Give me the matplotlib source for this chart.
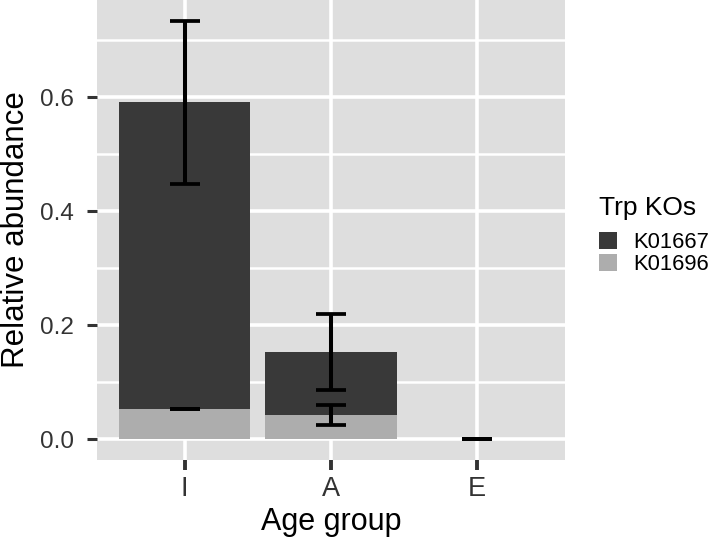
import matplotlib
matplotlib.use("Agg")
import matplotlib.pyplot as plt
from matplotlib.patches import Rectangle
import numpy as np

plt.rcParams['font.family'] = ['Liberation Sans', 'DejaVu Sans']

# ---- data ----
groups = ["I", "A", "E"]
series_names = ["K01667", "K01696"]
k01696 = [0.052, 0.0425, 0.0]          # bottom segment
k01667 = [0.539, 0.110, 0.0]           # top segment
err_k01696 = [0.0, 0.0175, 0.0]        # error half-width around bottom segment top
err_total = [0.143, 0.0665, 0.0]       # error half-width around stacked top
series_colors = ["#393939", "#adadad"]  # K01667, K01696
legend_title = "Trp KOs"
xlabel = "Age group"
ylabel = "Relative abundance"
yticks = [0.0, 0.2, 0.4, 0.6]
yminor = [0.1, 0.3, 0.5, 0.7]

W, H = 709, 544
fig = plt.figure(figsize=(W / 100, H / 100), dpi=100)
ax = fig.add_axes([96.7 / W, 1 - 460 / H, (565 - 96.7) / W, 460 / H])
ax.set_facecolor("#dedede")

x = np.arange(len(groups))
bottom = np.array(k01696)
top = bottom + np.array(k01667)

ax.bar(x, k01696, width=0.9, color=series_colors[1], zorder=2)
ax.bar(x, k01667, width=0.9, bottom=k01696, color=series_colors[0], zorder=2)

ekw = dict(fmt='none', ecolor='black', elinewidth=2.9, capsize=10.8, capthick=2.7, zorder=3)
ax.errorbar(x, bottom, yerr=err_k01696, **ekw)
ax.errorbar(x, top, yerr=err_total, **ekw)

ax.set_xlim(-0.6, 2.6)
ymax = max(top + np.array(err_total))
ax.set_ylim(-0.05 * ymax, ymax * 1.05)

ax.set_xticks(x)
ax.set_xticklabels(groups)
ax.set_yticks(yticks)
ax.set_yticklabels([f"{v:.1f}" for v in yticks])
ax.set_yticks(yminor, minor=True)

ax.set_axisbelow(True)
ax.grid(True, which='major', color='white', linewidth=2.6)
ax.grid(True, which='minor', axis='y', color='white', linewidth=1.8)
for s in ax.spines.values():
    s.set_visible(False)

ax.tick_params(axis='y', which='major', length=7.2, width=2.2, color='#333333',
               labelsize=17.5, labelcolor='#333333', pad=9.5)
ax.tick_params(axis='x', which='major', length=7.2, width=2.8, color='#333333',
               labelsize=19.5, labelcolor='#333333', pad=4)
ax.tick_params(which='minor', length=0)

ax.set_xlabel(xlabel, fontsize=22, color='black', va='baseline')
ax.xaxis.set_label_coords(0.5, (460 - 530) / 460)
ax.set_ylabel(ylabel, fontsize=22.5, color='black', va='center')
ax.yaxis.set_label_coords((16 - 96.7) / (565 - 96.7), 0.5)

# ---- legend ----
fig.text(599 / W, 1 - 215 / H, legend_title, fontsize=19, va='baseline', ha='left')
key_tops = [232, 254]
baselines = [248.3, 270]
for name, col, kt, bl in zip(series_names, series_colors, key_tops, baselines):
    fig.add_artist(Rectangle((599 / W, 1 - (kt + 17) / H), 18 / W, 17 / H,
                             transform=fig.transFigure, facecolor=col, edgecolor='none'))
    fig.text(633 / W, 1 - bl / H, name, fontsize=15.8, va='baseline', ha='left')

fig.savefig("out.png", dpi=100)
